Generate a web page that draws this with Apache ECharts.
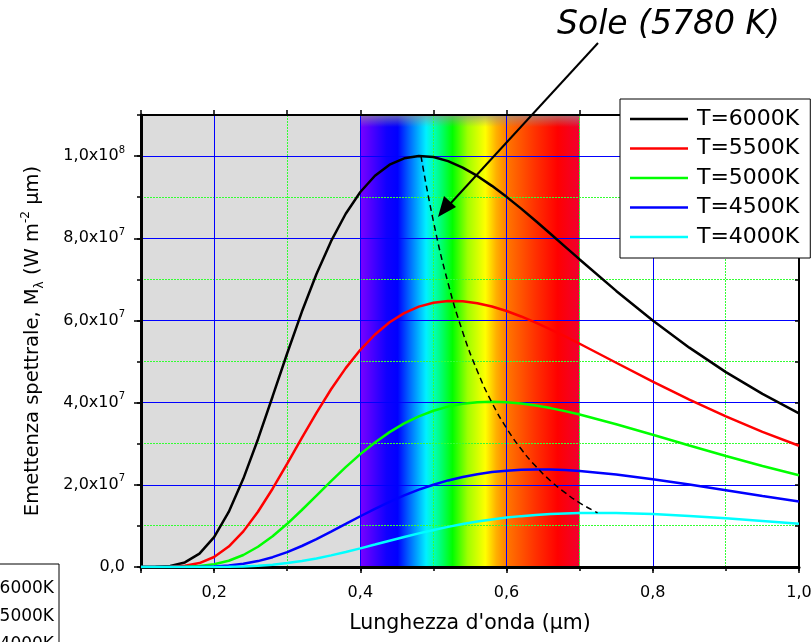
<!DOCTYPE html>
<html>
<head>
    <meta charset="utf-8"/>
    <title>Emettenza spettrale - corpo nero</title>
    <style type="text/css">
        html, body { margin: 0; padding: 0; background: #fff; }
        #main { width: 811px; height: 642px; }
    </style>
    <script type="text/javascript" src="https://cdn.jsdelivr.net/npm/echarts@6/dist/echarts.min.js"></script>
</head>
<body>
<div id="main"></div>
<script type="text/javascript">
    // lunghezza d'onda (um)
    var lambda = [0.10, 0.12, 0.14, 0.16, 0.18, 0.20, 0.22, 0.24, 0.26, 0.28, 0.30, 0.32, 0.34, 0.36, 0.38,
        0.40, 0.42, 0.44, 0.46, 0.48, 0.50, 0.52, 0.54, 0.56, 0.58, 0.60, 0.62, 0.64, 0.66, 0.68, 0.70,
        0.75, 0.80, 0.85, 0.90, 0.95, 1.00];

    // emettenza spettrale, in unita' di 1e7 W m^-2 um^-1
    var t6000 = [0.0001, 0.0032, 0.0253, 0.111, 0.324, 0.726, 1.340, 2.151, 3.110, 4.150, 5.202, 6.210, 7.129, 7.930, 8.597,
        9.126, 9.521, 9.790, 9.946, 10.004, 9.977, 9.878, 9.720, 9.517, 9.276, 9.008, 8.721, 8.419, 8.111, 7.798, 7.485,
        6.719, 5.999, 5.338, 4.743, 4.212, 3.741];
    var t5500 = [0, 0.0005, 0.0053, 0.0283, 0.0966, 0.244, 0.498, 0.867, 1.345, 1.905, 2.515, 3.141, 3.753, 4.325, 4.840,
        5.286, 5.658, 5.955, 6.179, 6.336, 6.432, 6.472, 6.466, 6.419, 6.338, 6.229, 6.097, 5.948, 5.785, 5.612, 5.433,
        4.971, 4.511, 4.073, 3.664, 3.289, 2.951];
    var t5000 = [0, 0.0001, 0.0008, 0.0055, 0.0226, 0.066, 0.152, 0.292, 0.492, 0.748, 1.051, 1.387, 1.738, 2.091, 2.430,
        2.747, 3.032, 3.282, 3.494, 3.667, 3.803, 3.904, 3.971, 4.009, 4.020, 4.009, 3.978, 3.930, 3.867, 3.794, 3.710,
        3.475, 3.218, 2.956, 2.700, 2.457, 2.231];
    var t4500 = [0, 0, 0.0001, 0.0007, 0.0038, 0.0133, 0.0354, 0.077, 0.144, 0.239, 0.362, 0.511, 0.679, 0.860, 1.047,
        1.235, 1.416, 1.586, 1.742, 1.882, 2.003, 2.107, 2.192, 2.259, 2.310, 2.345, 2.366, 2.374, 2.371, 2.358, 2.336,
        2.252, 2.138, 2.007, 1.869, 1.730, 1.595];
    var t4000 = [0, 0, 0, 0.0001, 0.0004, 0.0018, 0.0058, 0.0146, 0.0309, 0.0573, 0.0955, 0.146, 0.209, 0.283, 0.366,
        0.454, 0.546, 0.639, 0.730, 0.818, 0.900, 0.976, 1.044, 1.105, 1.157, 1.202, 1.238, 1.267, 1.289, 1.305, 1.314,
        1.314, 1.288, 1.243, 1.186, 1.122, 1.054];

    // luogo dei massimi (legge di Wien), tratteggiato
    var wienLambda = [0.483, 0.50, 0.52, 0.54, 0.56, 0.58, 0.60, 0.62, 0.64, 0.66, 0.68, 0.70, 0.7245];
    var wienValue = [10.0, 8.41, 6.91, 5.72, 4.77, 4.00, 3.38, 2.87, 2.45, 2.10, 1.81, 1.56, 1.32];

    var seriesNames = ['T=6000K', 'T=5500K', 'T=5000K', 'T=4500K', 'T=4000K'];
    var seriesColors = ['#000000', '#ff0000', '#00ff00', '#0000ff', '#00ffff'];
    var seriesValues = [t6000, t5500, t5000, t4500, t4000];

    // bande: ultravioletto (grigio) e visibile (spettro)
    var bands = [[0.1, 0.4], [0.4, 0.7]];

    // griglia secondaria (linee verdi punteggiate)
    var xMinor = [0.3, 0.5, 0.7, 0.9];
    var yMinor = [1, 3, 5, 7, 9];

    // etichette degli assi
    var xTickValues = [0.2, 0.4, 0.6, 0.8, 1.0];
    var xTickLabels = ['0,2', '0,4', '0,6', '0,8', '1,0'];
    var yTickValues = [0, 2, 4, 6, 8, 10];
    var yTickMant = ['0,0', '2,0x10', '4,0x10', '6,0x10', '8,0x10', '1,0x10'];
    var yTickExp = ['', '7', '7', '7', '7', '8'];

    var FONT = 'DejaVu Sans';
    var MAJOR_GRID = {color: '#0000ff', width: 1, type: 'solid'};
    var NO_GRID = {show: false};

    var myChart = echarts.init(document.getElementById('main'));

    var spectrum = new echarts.graphic.LinearGradient(0, 0, 1, 0, [
        {offset: 0, color: '#7a00ff'},
        {offset: 0.12, color: '#1000ff'},
        {offset: 0.17, color: '#0000ff'},
        {offset: 0.22, color: '#0060ff'},
        {offset: 0.30, color: '#00f0ff'},
        {offset: 0.34, color: '#00ffb0'},
        {offset: 0.42, color: '#00ff00'},
        {offset: 0.49, color: '#a0ff00'},
        {offset: 0.57, color: '#ffff00'},
        {offset: 0.62, color: '#ffb000'},
        {offset: 0.68, color: '#ff7000'},
        {offset: 0.80, color: '#ff3000'},
        {offset: 0.90, color: '#ff0000'},
        {offset: 1, color: '#f00030'}
    ]);
    var topFade = new echarts.graphic.LinearGradient(0, 0, 0, 1, [
        {offset: 0, color: 'rgba(150,150,150,0.7)'},
        {offset: 1, color: 'rgba(150,150,150,0)'}
    ]);

    function crisp(p) {
        return Math.round(p - 0.5) + 0.5;
    }

    function renderBand(params, api) {
        var x0 = api.coord([api.value(0), 0])[0];
        var x1 = api.coord([api.value(1), 0])[0];
        var cs = params.coordSys;
        if (params.dataIndex === 0) {
            return {
                type: 'rect',
                shape: {x: x0, y: cs.y, width: x1 - x0, height: cs.height},
                style: {fill: '#dcdcdc'}
            };
        }
        return {
            type: 'group',
            children: [{
                type: 'rect',
                shape: {x: x0, y: cs.y, width: x1 - x0, height: cs.height},
                style: {fill: spectrum}
            }, {
                type: 'rect',
                shape: {x: x0, y: cs.y, width: x1 - x0, height: 12},
                style: {fill: topFade}
            }]
        };
    }

    function renderMinorX(params, api) {
        var cs = params.coordSys;
        var x = crisp(api.coord([api.value(0), 0])[0]);
        return {
            type: 'line',
            shape: {x1: x, y1: cs.y, x2: x, y2: cs.y + cs.height},
            style: {stroke: '#33ff33', lineWidth: 1, lineDash: [2, 1]}
        };
    }

    function renderMinorY(params, api) {
        var cs = params.coordSys;
        var y = crisp(api.coord([0.5, api.value(0)])[1]);
        return {
            type: 'line',
            shape: {x1: cs.x, y1: y, x2: cs.x + cs.width, y2: y},
            style: {stroke: '#33ff33', lineWidth: 1, lineDash: [2, 1]}
        };
    }

    var series = [{
        type: 'custom',
        name: 'bande',
        z: 0,
        silent: true,
        renderItem: renderBand,
        dimensions: ['start', 'end'],
        encode: {x: ['start', 'end']},
        data: bands
    }, {
        type: 'custom',
        name: 'grigliaX',
        z: 0.5,
        silent: true,
        renderItem: renderMinorX,
        dimensions: ['x'],
        encode: {x: 'x'},
        data: xMinor.map(function (v) { return [v]; })
    }, {
        type: 'custom',
        name: 'grigliaY',
        z: 0.5,
        silent: true,
        renderItem: renderMinorY,
        dimensions: ['y'],
        encode: {y: 'y'},
        data: yMinor.map(function (v) { return [v]; })
    }];

    seriesNames.forEach(function (name, k) {
        series.push({
            type: 'line',
            name: name,
            symbol: 'none',
            z: 3,
            lineStyle: {color: seriesColors[k], width: 2.5},
            itemStyle: {color: seriesColors[k]},
            data: lambda.map(function (l, i) {
                return [l, seriesValues[k][i]];
            })
        });
    });

    series.push({
        type: 'line',
        name: 'Wien',
        symbol: 'none',
        smooth: true,
        z: 3,
        lineStyle: {color: '#000', width: 1.5, type: [6, 4]},
        data: wienLambda.map(function (l, i) {
            return [l, wienValue[i]];
        })
    });

    var option = {
        animation: false,
        backgroundColor: '#fff',
        grid: {left: 141, right: 12, top: 115, bottom: 75, containLabel: false, outerBoundsMode: 'none'},
        legend: {
            data: seriesNames,
            orient: 'vertical',
            left: 620,
            top: 99,
            padding: [9, 11, 10, 10],
            itemGap: 7.5,
            itemWidth: 58,
            itemHeight: 2.5,
            icon: 'rect',
            backgroundColor: '#fff',
            borderColor: '#000',
            borderWidth: 1,
            borderRadius: 0,
            z: 6,
            textStyle: {fontFamily: FONT, fontSize: 22, color: '#000', padding: [0, 0, 0, 4]}
        },
        xAxis: [{
            // asse principale
            type: 'value',
            position: 'bottom',
            min: 0.1,
            max: 1.0,
            z: 1.5,
            name: 'Lunghezza d\'onda (\u03bcm)',
            nameLocation: 'middle',
            nameGap: 46,
            nameTextStyle: {fontFamily: FONT, fontSize: 20.5, color: '#000'},
            axisLine: {show: true, onZero: false, lineStyle: {color: '#000', width: 3}},
            axisTick: {show: true, length: 6, lineStyle: {color: '#000', width: 1.5}},
            axisLabel: {
                margin: 18,
                fontFamily: FONT,
                fontSize: 16,
                color: '#000',
                formatter: function (v) {
                    for (var i = 0; i < xTickValues.length; i++) {
                        if (Math.abs(xTickValues[i] - v) < 1e-6) return xTickLabels[i];
                    }
                    return '';
                }
            },
            splitLine: {show: true, showMinLine: false, showMaxLine: false, lineStyle: MAJOR_GRID}
        }, {
            // tacche secondarie in basso
            type: 'value',
            position: 'bottom',
            min: 0.1,
            max: 1.0,
            interval: 0.1,
            z: 1,
            axisLine: {show: false},
            axisTick: {show: true, length: 4, lineStyle: {color: '#000', width: 1.5}},
            axisLabel: {show: false},
            splitLine: NO_GRID
        }, {
            // bordo superiore
            type: 'value',
            position: 'top',
            min: 0.1,
            max: 1.0,
            interval: 0.1,
            z: 1.5,
            axisLine: {show: true, onZero: false, lineStyle: {color: '#000', width: 2}},
            axisTick: {show: true, length: 5, lineStyle: {color: '#000', width: 1.5}},
            axisLabel: {show: false},
            splitLine: NO_GRID
        }],
        yAxis: [{
            type: 'value',
            position: 'left',
            min: 0,
            max: 11,
            interval: 2,
            z: 1.5,
            name: 'Emettenza spettrale, M{sub|\u03bb} (W m{sup|-2} \u03bcm)',
            nameLocation: 'middle',
            nameGap: 95,
            nameTextStyle: {
                fontFamily: FONT, fontSize: 19.5, color: '#000', lineHeight: 26,
                rich: {
                    sub: {fontFamily: FONT, fontSize: 12, color: '#000', verticalAlign: 'bottom'},
                    sup: {fontFamily: FONT, fontSize: 12, color: '#000', verticalAlign: 'top'}
                }
            },
            axisLine: {show: true, onZero: false, lineStyle: {color: '#000', width: 3}},
            axisTick: {show: true, length: 7, lineStyle: {color: '#000', width: 1.5}},
            axisLabel: {
                margin: 16,
                showMaxLabel: false,
                formatter: function (v) {
                    var i = yTickValues.indexOf(v);
                    if (i < 0) return '';
                    var s = '{m|' + yTickMant[i] + '}';
                    if (yTickExp[i]) s += '{e|' + yTickExp[i] + '}';
                    return s;
                },
                rich: {
                    m: {fontFamily: FONT, fontSize: 16, color: '#000', lineHeight: 22},
                    e: {fontFamily: FONT, fontSize: 10, color: '#000', verticalAlign: 'top'}
                }
            },
            splitLine: {show: true, showMinLine: false, showMaxLine: false, lineStyle: MAJOR_GRID}
        }, {
            // tacche secondarie a sinistra
            type: 'value',
            position: 'left',
            min: 0,
            max: 11,
            interval: 1,
            z: 1,
            axisLine: {show: false},
            axisTick: {show: true, length: 4, lineStyle: {color: '#000', width: 1.5}},
            axisLabel: {show: false},
            splitLine: NO_GRID
        }, {
            // bordo destro
            type: 'value',
            position: 'right',
            min: 0,
            max: 11,
            interval: 1,
            z: 1.5,
            axisLine: {show: true, onZero: false, lineStyle: {color: '#000', width: 2}},
            axisTick: {show: true, inside: true, length: 4, lineStyle: {color: '#000', width: 1.5}},
            axisLabel: {show: false},
            splitLine: NO_GRID
        }],
        series: series,
        graphic: [{
            type: 'text',
            z: 10,
            style: {
                text: 'Sole (5780 K)',
                x: 557, y: 25,
                fontFamily: FONT, fontSize: 33, fontStyle: 'italic',
                fill: '#000', verticalAlign: 'middle', align: 'left'
            }
        }, {
            type: 'line',
            z: 10,
            shape: {x1: 598, y1: 43, x2: 450, y2: 204},
            style: {stroke: '#000', lineWidth: 2}
        }, {
            type: 'polygon',
            z: 10,
            shape: {points: [[438, 217], [456, 207], [444, 196]]},
            style: {fill: '#000'}
        }, {
            // riquadro di una seconda legenda, tagliato dal bordo
            type: 'rect',
            z: 10,
            shape: {x: -100, y: 564, width: 159, height: 120},
            style: {fill: '#fff', stroke: '#000', lineWidth: 1}
        }, {
            type: 'text', z: 11,
            style: {text: '6000K', x: 54, y: 589, fontFamily: FONT, fontSize: 17, fill: '#000',
                align: 'right', verticalAlign: 'middle'}
        }, {
            type: 'text', z: 11,
            style: {text: '5000K', x: 54, y: 617, fontFamily: FONT, fontSize: 17, fill: '#000',
                align: 'right', verticalAlign: 'middle'}
        }, {
            type: 'text', z: 11,
            style: {text: '4000K', x: 54, y: 645, fontFamily: FONT, fontSize: 17, fill: '#000',
                align: 'right', verticalAlign: 'middle'}
        }]
    };

    myChart.setOption(option);
</script>
</body>
</html>
